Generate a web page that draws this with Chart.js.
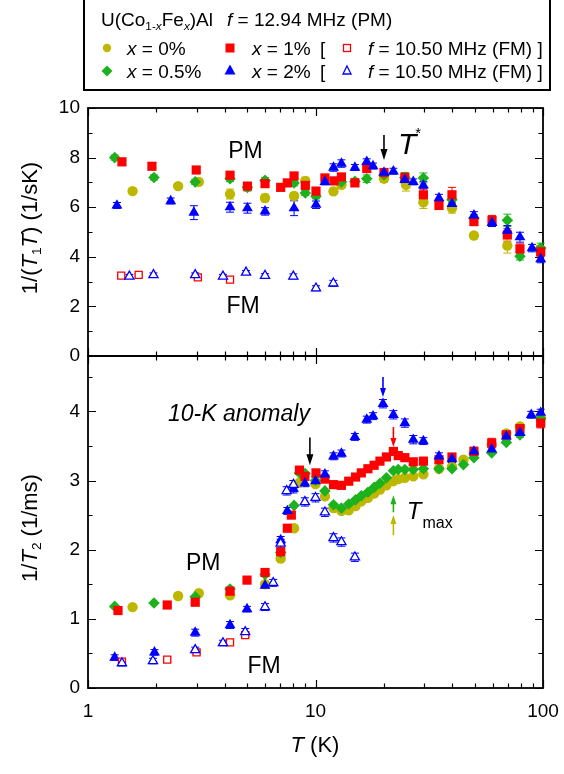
<!DOCTYPE html>
<html>
<head>
<meta charset="utf-8">
<title>U(Co1-xFex)Al NMR relaxation rates</title>
<script src="https://cdn.jsdelivr.net/npm/chart.js"></script>
<style>
  body { margin: 0; background: #fff; font-family: "Liberation Sans", Arial, sans-serif; color: #000; }
  #page { position: relative; width: 564px; height: 774px; overflow: hidden; background: #fff; }
  canvas { position: absolute; left: 0; }
  #topPanel { top: 0; }
  #bottomPanel { top: 340px; }
  .legend { position: absolute; left: 83px; top: -2px; width: 468px; height: 93px;
            border: 2px solid #000; box-sizing: border-box; font-size: 19px; }
  .legend span { position: absolute; white-space: nowrap; line-height: 1; }
  .legend svg { position: absolute; }
  .legend sub { font-size: 0.62em; vertical-align: -0.3em; line-height: 0; }
  .title { position: absolute; white-space: nowrap; font-size: 22px; line-height: 1; }
  .title sub { font-size: 0.62em; vertical-align: -0.3em; line-height: 0; }
  .ytitle { transform: translate(-50%, -50%) rotate(-90deg); }
  .xtitle { transform: translate(-50%, -50%); }
</style>
</head>
<body>
<div id="page">
  <canvas id="topPanel" width="564" height="372"></canvas>
  <canvas id="bottomPanel" width="564" height="434"></canvas>

  <div class="legend">
    <span style="left:16px; top:10px">U(Co<sub>1-<i>x</i></sub>Fe<sub><i>x</i></sub>)Al</span>
    <span style="left:142px; top:10px"><i>f</i> = 12.94 MHz (PM)</span>

    <svg style="left:15px; top:41px" width="14" height="14"><circle cx="7" cy="7" r="4.2" fill="#BDB700"/></svg>
    <span style="left:42px; top:39px"><i>x</i> = 0%</span>
    <svg style="left:138px; top:41px" width="14" height="14"><rect x="2.5" y="2.5" width="9" height="9" fill="#FF0000"/></svg>
    <span style="left:167px; top:39px"><i>x</i> = 1%</span>
    <span style="left:235px; top:39px">[</span>
    <svg style="left:255px; top:41px" width="14" height="14"><rect x="3.5" y="3.5" width="7" height="7" fill="none" stroke="#FF0000" stroke-width="1.3"/></svg>
    <span style="left:283px; top:39px"><i>f</i> = 10.50 MHz (FM) ]</span>

    <svg style="left:15px; top:64px" width="14" height="14"><polygon points="7,1.5 12.5,7 7,12.5 1.5,7" fill="#1DB21D"/></svg>
    <span style="left:42px; top:62px"><i>x</i> = 0.5%</span>
    <svg style="left:138px; top:63px" width="14" height="14"><polygon points="7,1.5 12.5,11.5 1.5,11.5" fill="#0000FF"/></svg>
    <span style="left:167px; top:62px"><i>x</i> = 2%</span>
    <span style="left:235px; top:62px">[</span>
    <svg style="left:255px; top:63px" width="14" height="14"><polygon points="7,3 11,11 3,11" fill="none" stroke="#0000FF" stroke-width="1.3"/></svg>
    <span style="left:283px; top:62px"><i>f</i> = 10.50 MHz (FM) ]</span>
  </div>

  <div class="title ytitle" style="left:30px; top:228px">1/(<i>T</i><sub>1</sub><i>T</i>) (1/sK)</div>
  <div class="title ytitle" style="left:30px; top:528px">1/<i>T</i><sub>2</sub> (1/ms)</div>
  <div class="title xtitle" style="left:315px; top:745px"><i>T</i> (K)</div>
</div>

<script>
  // ---------- 1/(T1 T), 12.94 MHz (PM) ----------
  const t1TempX0 = [1.57, 2.49, 3.07, 4.21, 6.0, 8.05, 9.02, 12.0, 13.0, 20.0, 25.0, 29.8, 39.8, 49.7, 69.7, 97.0];
  const t1RateX0 = [6.65, 6.85, 7.02, 6.53, 6.37, 6.45, 7.06, 6.64, 6.9, 7.15, 6.9, 6.2, 5.96, 4.86, 4.45, 4.3];
  const t1ErrX0  = [0.1, 0.1, 0.12, 0.2, 0.15, 0.15, 0.15, 0.12, 0.12, 0.15, 0.25, 0.25, 0.2, 0.1, 0.3, 0.15];

  const t1TempX05 = [1.31, 1.95, 2.96, 4.21, 5.02, 6.0, 8.05, 9.02, 10.05, 13.0, 14.9, 16.8, 20.0, 24.7, 29.8, 39.8, 49.7, 69.7, 79.2, 97.7];
  const t1RateX05 = [8.0, 7.2, 7.02, 7.15, 6.8, 7.08, 6.98, 6.57, 6.44, 7.02, 7.04, 7.15, 7.3, 7.2, 7.18, 6.3, 5.55, 5.47, 4.02, 4.35];
  const t1ErrX05  = [0.1, 0.1, 0.1, 0.12, 0.15, 0.12, 0.12, 0.1, 0.1, 0.12, 0.12, 0.15, 0.15, 0.2, 0.2, 0.15, 0.15, 0.25, 0.15, 0.2];

  const t1TempX1 = [1.41, 1.91, 2.99, 4.21, 5.02, 6.0, 7.03, 7.52, 8.05, 9.02, 10.05, 11.0, 12.06, 13.0, 14.9, 16.8, 20.0, 24.7, 29.8, 34.9, 39.8, 49.7, 59.7, 69.7, 79.2, 97.7];
  const t1RateX1 = [7.83, 7.65, 7.5, 7.29, 6.85, 6.95, 6.8, 6.98, 7.26, 6.88, 6.65, 7.18, 7.06, 7.22, 6.98, 7.56, 7.4, 7.2, 6.5, 6.07, 6.5, 5.42, 5.47, 4.88, 4.32, 4.2];
  const t1ErrX1  = [0.12, 0.1, 0.1, 0.12, 0.1, 0.1, 0.1, 0.1, 0.12, 0.1, 0.12, 0.1, 0.1, 0.1, 0.1, 0.12, 0.15, 0.15, 0.25, 0.15, 0.3, 0.15, 0.2, 0.25, 0.2, 0.2];

  const t1TempX2 = [1.34, 2.31, 2.92, 4.21, 5.02, 6.0, 8.05, 10.05, 11.0, 12.0, 13.0, 14.9, 16.8, 17.9, 20.0, 22.0, 24.7, 26.9, 29.8, 34.9, 39.8, 49.7, 59.7, 69.7, 79.2, 89.5, 97.7];
  const t1RateX2 = [6.07, 6.25, 5.78, 6.0, 5.96, 5.83, 5.96, 6.1, 7.02, 7.6, 7.76, 7.6, 7.83, 7.66, 7.4, 7.45, 7.1, 7.02, 6.88, 6.37, 6.14, 5.67, 5.37, 5.06, 4.79, 4.35, 3.91];
  const t1ErrX2  = [0.12, 0.12, 0.28, 0.2, 0.2, 0.15, 0.3, 0.15, 0.12, 0.15, 0.15, 0.12, 0.12, 0.12, 0.12, 0.12, 0.15, 0.12, 0.15, 0.15, 0.15, 0.15, 0.15, 0.2, 0.2, 0.15, 0.15];

  // 10.50 MHz (FM)
  const t1TempFmX1 = [1.40, 1.67, 3.04, 4.21];
  const t1RateFmX1 = [3.24, 3.27, 3.17, 3.08];
  const t1ErrFmX1  = [0.05, 0.05, 0.05, 0.05];
  const t1TempFmX2 = [1.52, 1.94, 2.96, 3.92, 4.95, 6.0, 7.99, 10.05, 11.98];
  const t1RateFmX2 = [3.21, 3.27, 3.27, 3.21, 3.37, 3.24, 3.21, 2.73, 2.93];
  const t1ErrFmX2  = [0.08, 0.08, 0.08, 0.08, 0.08, 0.08, 0.1, 0.1, 0.12];

  // ---------- 1/T2 ----------
  const t2TempX0 = [1.57, 2.49, 3.07, 4.21, 6.0, 7.03, 8.05, 8.5, 10.0, 11.0, 12.0, 13.0, 14.0, 15.0, 15.9, 17.0, 18.1, 19.2, 20.5, 22.0, 23.1, 24.7, 26.9, 29.8, 34.9, 39.8, 44.7, 49.7, 59.5, 69.0, 79.2, 97.7];
  const t2RateX0 = [1.17, 1.33, 1.37, 1.34, 1.5, 1.87, 2.31, 2.97, 2.95, 2.77, 2.6, 2.56, 2.57, 2.63, 2.70, 2.75, 2.81, 2.87, 2.93, 2.99, 3.02, 3.04, 3.06, 3.09, 3.17, 3.2, 3.30, 3.4, 3.52, 3.68, 3.78, 3.9];

  const t2TempX05 = [1.31, 1.95, 2.96, 4.21, 6.0, 7.03, 8.05, 8.5, 9.0, 10.0, 11.0, 12.0, 13.0, 14.0, 15.0, 15.9, 17.0, 18.1, 19.2, 20.5, 22.0, 23.1, 24.7, 26.9, 29.8, 34.9, 39.8, 44.7, 49.7, 59.5, 69.0, 79.2, 97.7];
  const t2RateX05 = [1.18, 1.23, 1.32, 1.43, 1.64, 1.96, 2.64, 3.11, 3.1, 3.0, 2.85, 2.65, 2.6, 2.66, 2.72, 2.78, 2.83, 2.9, 2.96, 3.04, 3.14, 3.16, 3.16, 3.16, 3.17, 3.17, 3.17, 3.23, 3.33, 3.4, 3.55, 3.66, 3.9];

  const t2TempX1 = [1.355, 2.23, 2.96, 4.21, 5.0, 6.0, 7.03, 7.52, 7.83, 8.5, 8.98, 10.05, 11.0, 12.0, 13.0, 14.0, 15.0, 15.9, 17.0, 18.1, 19.2, 20.5, 22.0, 23.1, 24.7, 26.9, 29.8, 34.9, 39.8, 49.7, 59.5, 69.0, 79.2, 97.7];
  const t2RateX1 = [1.12, 1.2, 1.24, 1.40, 1.56, 1.67, 1.97, 2.31, 2.5, 3.15, 3.06, 3.11, 3.02, 2.94, 2.93, 2.99, 3.05, 3.11, 3.17, 3.22, 3.28, 3.34, 3.42, 3.36, 3.33, 3.27, 3.28, 3.3, 3.34, 3.42, 3.54, 3.66, 3.75, 3.83];
  const t2ErrX1  = [0.03, 0.03, 0.03, 0.03, 0.03, 0.03, 0.03, 0.03, 0.03, 0.04, 0.04, 0.04, 0.03, 0.03, 0.03, 0.03, 0.03, 0.03, 0.03, 0.03, 0.03, 0.03, 0.03, 0.03, 0.04, 0.04, 0.04, 0.04, 0.05, 0.06, 0.07, 0.06, 0.07, 0.07];

  const t2TempX2 = [1.31, 1.96, 2.96, 4.21, 5.0, 6.0, 7.03, 7.52, 8.0, 8.98, 10.0, 11.0, 12.0, 13.0, 14.9, 16.8, 17.9, 19.8, 22.0, 24.7, 26.9, 29.8, 34.9, 39.8, 49.7, 59.5, 69.0, 79.2, 88.8, 97.7];
  const t2RateX2 = [0.44, 0.515, 0.80, 0.91, 1.14, 1.48, 2.14, 2.56, 2.88, 2.96, 2.99, 3.09, 3.35, 3.39, 3.63, 3.88, 3.93, 4.11, 3.95, 3.83, 3.59, 3.57, 3.35, 3.31, 3.42, 3.45, 3.64, 3.69, 3.95, 3.98];
  const t2ErrX2  = [0.04, 0.04, 0.05, 0.05, 0.04, 0.04, 0.05, 0.05, 0.06, 0.05, 0.06, 0.05, 0.05, 0.05, 0.05, 0.05, 0.05, 0.06, 0.06, 0.06, 0.06, 0.05, 0.05, 0.05, 0.06, 0.05, 0.06, 0.06, 0.05, 0.05];

  const t2TempFmX1 = [1.41, 2.23, 3.0, 4.21, 4.91];
  const t2RateFmX1 = [0.38, 0.41, 0.515, 0.66, 0.765];
  const t2ErrFmX1  = [0.03, 0.03, 0.03, 0.03, 0.03];
  const t2TempFmX2 = [1.41, 1.93, 2.96, 3.92, 4.91, 6.0, 6.52, 7.03, 7.47, 8.0, 8.98, 10.0, 11.0, 12.0, 13.0, 14.9];
  const t2RateFmX2 = [0.36, 0.39, 0.55, 0.65, 0.81, 1.17, 1.52, 2.09, 2.85, 2.94, 2.69, 2.75, 2.54, 2.17, 2.11, 1.89];
  const t2ErrFmX2  = [0.04, 0.04, 0.04, 0.04, 0.05, 0.05, 0.05, 0.06, 0.06, 0.06, 0.06, 0.06, 0.06, 0.06, 0.06, 0.06];

  const xTickLabels = [1, 10, 100];

  const OLIVE = '#BDB700';
  const GREEN = '#1DB21D';
  const RED = '#FF0000';
  const BLUE = '#0000FF';
  const FONT = '"Liberation Sans", Arial, sans-serif';

  Chart.defaults.font.family = FONT;
  Chart.defaults.color = '#000';

  function series(temps, rates, errs, style, color, radius, open) {
    return {
      data: temps.map((t, i) => ({ x: t, y: rates[i] })),
      errors: errs,
      pointStyle: style,
      pointRadius: radius,
      pointHoverRadius: radius,
      backgroundColor: open ? '#fff' : color,
      borderColor: color,
      borderWidth: open ? 1.3 : 0,
      showLine: false,
      clip: false,
    };
  }

  // box with inward major/minor ticks on all four sides
  const framePlugin = {
    id: 'frame',
    beforeDatasetsDraw(chart, args, opts) {
      const { ctx, chartArea: a } = chart;
      const xs = chart.scales.x, ys = chart.scales.y;
      ctx.save();
      ctx.strokeStyle = '#000';
      ctx.lineWidth = 1.2;
      ctx.beginPath();
      for (let dec = 1; dec < 100; dec *= 10) {
        for (let m = 1; m <= 10; m++) {
          const px = Math.round(xs.getPixelForValue(dec * m)) + 0.5;
          const len = (m === 1 || m === 10) ? 8 : 4.5;
          ctx.moveTo(px, a.bottom); ctx.lineTo(px, a.bottom - len);
          ctx.moveTo(px, a.top); ctx.lineTo(px, a.top + len);
        }
      }
      const n = Math.round((ys.max - ys.min) / opts.minorStep);
      for (let i = 0; i <= n; i++) {
        const v = ys.min + i * opts.minorStep;
        if (v > ys.max + 1e-9) break;
        const py = Math.round(ys.getPixelForValue(v)) + 0.5;
        const r = v / opts.majorStep;
        const len = Math.abs(r - Math.round(r)) < 1e-6 ? 8 : 4.5;
        ctx.moveTo(a.left, py); ctx.lineTo(a.left + len, py);
        ctx.moveTo(a.right, py); ctx.lineTo(a.right - len, py);
      }
      ctx.stroke();
      ctx.lineWidth = 1.8;
      ctx.strokeRect(a.left, a.top, a.right - a.left, a.bottom - a.top);
      ctx.restore();
    }
  };

  // vertical error bars with caps, under the markers
  const errorBarPlugin = {
    id: 'errorBars',
    beforeDatasetsDraw(chart) {
      const { ctx } = chart;
      const ys = chart.scales.y;
      ctx.save();
      ctx.lineWidth = 1;
      chart.data.datasets.forEach((ds, di) => {
        if (!ds.errors) return;
        const meta = chart.getDatasetMeta(di);
        ctx.strokeStyle = ds.borderColor;
        ctx.beginPath();
        meta.data.forEach((pt, i) => {
          const v = ds.data[i].y, e = ds.errors[i];
          const yHi = ys.getPixelForValue(v + e), yLo = ys.getPixelForValue(v - e);
          ctx.moveTo(pt.x, yHi); ctx.lineTo(pt.x, yLo);
          ctx.moveTo(pt.x - 4, yHi); ctx.lineTo(pt.x + 4, yHi);
          ctx.moveTo(pt.x - 4, yLo); ctx.lineTo(pt.x + 4, yLo);
        });
        ctx.stroke();
      });
      ctx.restore();
    }
  };

  // text labels and arrows placed in data coordinates
  const notesPlugin = {
    id: 'notes',
    afterDatasetsDraw(chart, args, opts) {
      const { ctx } = chart;
      const xs = chart.scales.x, ys = chart.scales.y;
      ctx.save();
      for (const n of opts.items) {
        const px = xs.getPixelForValue(n.x);
        if (n.arrow) {
          const p0 = ys.getPixelForValue(n.from), p1 = ys.getPixelForValue(n.to);
          const dir = Math.sign(p1 - p0);
          const hl = n.head || 8, hw = n.headW || 3;
          ctx.strokeStyle = n.color; ctx.fillStyle = n.color; ctx.lineWidth = 1.6;
          ctx.beginPath();
          ctx.moveTo(px, p0); ctx.lineTo(px, p1 - dir * hl * 0.7);
          ctx.stroke();
          ctx.beginPath();
          ctx.moveTo(px, p1);
          ctx.lineTo(px - hw, p1 - dir * hl);
          ctx.lineTo(px + hw, p1 - dir * hl);
          ctx.closePath();
          ctx.fill();
          continue;
        }
        let cx = px;
        const py = ys.getPixelForValue(n.y);
        ctx.fillStyle = '#000';
        ctx.textBaseline = 'alphabetic';
        if (n.align === 'center') {
          ctx.font = n.parts[0].font;
          ctx.textAlign = 'center';
          ctx.fillText(n.parts[0].text, cx, py);
          continue;
        }
        ctx.textAlign = 'left';
        for (const part of n.parts) {
          ctx.font = part.font;
          ctx.fillText(part.text, cx + (part.dx || 0), py + (part.dy || 0));
          cx += ctx.measureText(part.text).width + (part.dx || 0);
        }
      }
      ctx.restore();
    }
  };

  // tick marks themselves are drawn by framePlugin; tickLength only spaces the labels
  function panelOptions(yMax, yStep, yMinor, showX, xHeight, padding, notes) {
    return {
      responsive: false,
      animation: false,
      events: [],
      layout: { padding: padding },
      plugins: {
        legend: { display: false },
        tooltip: { enabled: false },
        frame: { majorStep: yStep, minorStep: yMinor },
        notes: { items: notes },
      },
      scales: {
        x: {
          type: 'logarithmic',
          min: 1,
          max: 100,
          grid: { display: false, drawTicks: true, tickLength: 11 },
          border: { display: false },
          ticks: {
            display: showX,
            autoSkip: false,
            maxRotation: 0,
            padding: 1,
            font: { size: 19 },
            callback: (v) => (xTickLabels.includes(v) ? String(v) : ''),
          },
          afterFit: (s) => { s.height = xHeight; },
        },
        y: {
          type: 'linear',
          min: 0,
          max: yMax,
          grid: { display: false, drawTicks: true, tickLength: 8 },
          border: { display: false },
          ticks: {
            stepSize: yStep,
            includeBounds: false,
            padding: 0,
            font: { size: 19 },
            callback: (v) => (Number.isInteger(v / yStep) ? String(v) : ''),
          },
          afterFit: (s) => { s.width = 88; },
        },
      },
    };
  }

  const IT = (size) => 'italic ' + size + 'px ' + FONT;
  const UP = (size) => size + 'px ' + FONT;

  const topNotes = [
    { x: 4.92, y: 7.97, align: 'center', parts: [{ text: 'PM', font: UP(23) }] },
    { x: 4.80, y: 1.72, align: 'center', parts: [{ text: 'FM', font: UP(23) }] },
    { x: 23.05, y: 8.15, parts: [{ text: 'T', font: IT(30) }, { text: '*', font: UP(15), dx: -1, dy: -16 }] },
    { arrow: true, x: 20.0, from: 8.91, to: 7.9, color: '#000', head: 11, headW: 3.5 },
  ];

  const bottomNotes = [
    { x: 2.247, y: 3.856, parts: [{ text: '10-K anomaly', font: IT(23) }] },
    { x: 3.21, y: 1.704, align: 'center', parts: [{ text: 'PM', font: UP(23) }] },
    { x: 5.94, y: 0.217, align: 'center', parts: [{ text: 'FM', font: UP(23) }] },
    { x: 25.2, y: 2.45, parts: [{ text: 'T', font: IT(24) }, { text: 'max', font: UP(16), dx: 1, dy: 9 }] },
    { arrow: true, x: 9.45, from: 3.62, to: 3.22, color: '#000', head: 11, headW: 3.5 },
    { arrow: true, x: 19.8, from: 4.495, to: 4.207, color: BLUE, head: 9, headW: 3 },
    { arrow: true, x: 22.0, from: 3.773, to: 3.484, color: RED, head: 9, headW: 3 },
    { arrow: true, x: 22.0, from: 2.54, to: 2.787, color: GREEN, head: 9, headW: 3 },
    { arrow: true, x: 22.0, from: 2.21, to: 2.50, color: OLIVE, head: 9, headW: 3 },
  ];

  // first dataset is painted last, so it ends up on top
  new Chart(document.getElementById('topPanel'), {
    type: 'scatter',
    data: {
      datasets: [
        series(t1TempFmX2, t1RateFmX2, t1ErrFmX2, 'triangle', BLUE, 5.3, true),
        series(t1TempFmX1, t1RateFmX1, t1ErrFmX1, 'rect', RED, 5, true),
        series(t1TempX2, t1RateX2, t1ErrX2, 'triangle', BLUE, 6.3),
        series(t1TempX1, t1RateX1, t1ErrX1, 'rect', RED, 6.5),
        series(t1TempX05, t1RateX05, t1ErrX05, 'rectRot', GREEN, 5.8),
        series(t1TempX0, t1RateX0, t1ErrX0, 'circle', OLIVE, 5.2),
      ],
    },
    options: panelOptions(10, 2, 1, false, 0, { top: 108, right: 21, bottom: 16, left: 0 }, topNotes),
    plugins: [framePlugin, errorBarPlugin, notesPlugin],
  });

  new Chart(document.getElementById('bottomPanel'), {
    type: 'scatter',
    data: {
      datasets: [
        series(t2TempFmX2, t2RateFmX2, t2ErrFmX2, 'triangle', BLUE, 5.3, true),
        series(t2TempFmX1, t2RateFmX1, t2ErrFmX1, 'rect', RED, 5, true),
        series(t2TempX2, t2RateX2, t2ErrX2, 'triangle', BLUE, 6.3),
        series(t2TempX1, t2RateX1, t2ErrX1, 'rect', RED, 6.5),
        series(t2TempX05, t2RateX05, null, 'rectRot', GREEN, 5.8),
        series(t2TempX0, t2RateX0, null, 'circle', OLIVE, 5.2),
      ],
    },
    options: panelOptions(4.8, 1, 0.5, true, 86, { top: 16, right: 21, bottom: 0, left: 0 }, bottomNotes),
    plugins: [framePlugin, errorBarPlugin, notesPlugin],
  });
</script>
</body>
</html>
